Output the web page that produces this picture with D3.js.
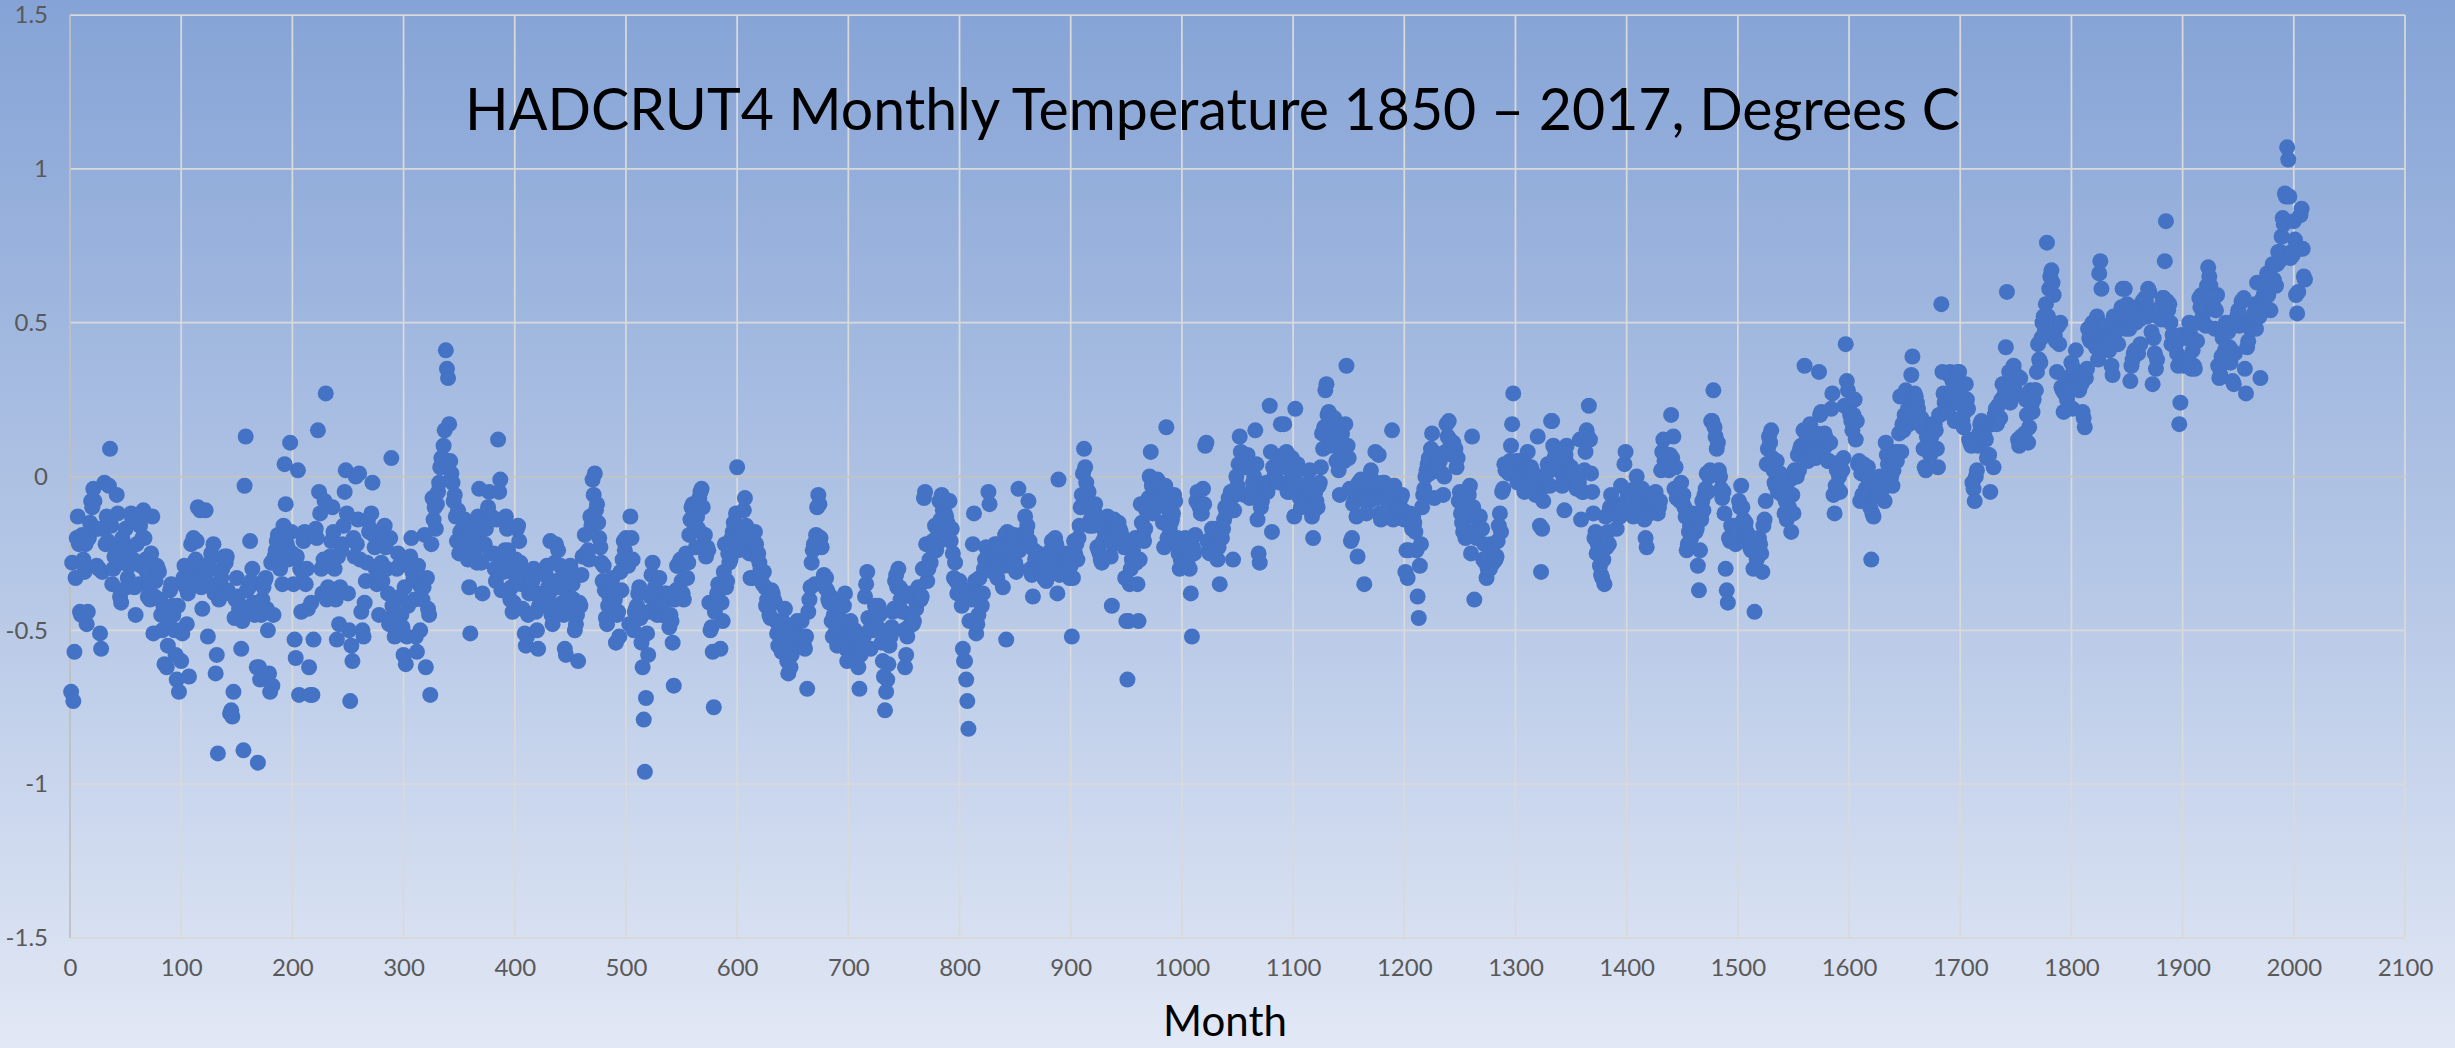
<!DOCTYPE html>
<meta charset="utf-8">
<style>
  body { margin: 0; overflow: hidden; }
  svg { display: block; }
</style>
<body>
<div id="chart"></div>
<script src="https://d3js.org/d3.v7.min.js"></script>
<script>

// HadCRUT4 monthly anomaly, one row per year (1850 .. mid 2017)
var anomaly = [
-0.70,-0.28,-0.73,-0.57,-0.33,-0.20,-0.13,-0.22,-0.44,-0.45,-0.19,-0.27,
-0.31,-0.22,-0.48,-0.44,-0.20,-0.15,-0.08,-0.10,-0.04,-0.08,-0.17,-0.29,
-0.17,-0.30,-0.51,-0.56,-0.31,-0.17,-0.02,-0.22,-0.13,-0.21,-0.03,0.09,
-0.16,-0.35,-0.30,-0.26,-0.23,-0.06,-0.12,-0.28,-0.39,-0.41,-0.20,-0.28,
-0.26,-0.17,-0.36,-0.33,-0.29,-0.23,-0.12,-0.14,-0.27,-0.36,-0.45,-0.22,
-0.13,-0.35,-0.16,-0.29,-0.20,-0.11,-0.20,-0.27,-0.31,-0.39,-0.35,-0.40,
-0.25,-0.13,-0.51,-0.39,-0.34,-0.29,-0.30,-0.31,-0.40,-0.45,-0.50,-0.42,
-0.61,-0.45,-0.62,-0.55,-0.48,-0.37,-0.35,-0.42,-0.45,-0.50,-0.58,-0.66,
-0.42,-0.70,-0.50,-0.60,-0.51,-0.33,-0.29,-0.36,-0.48,-0.38,-0.65,-0.36,
-0.22,-0.31,-0.20,-0.33,-0.27,-0.21,-0.10,-0.32,-0.11,-0.36,-0.43,-0.30,
-0.29,-0.11,-0.31,-0.52,-0.35,-0.30,-0.25,-0.26,-0.22,-0.38,-0.64,-0.58,
-0.90,-0.40,-0.37,-0.33,-0.30,-0.38,-0.26,-0.28,-0.26,-0.37,-0.38,-0.77,
-0.76,-0.78,-0.70,-0.46,-0.40,-0.33,-0.39,-0.43,-0.42,-0.56,-0.47,-0.89,
-0.03,0.13,-0.37,-0.44,-0.36,-0.21,-0.34,-0.30,-0.41,-0.45,-0.42,-0.62,
-0.93,-0.62,-0.66,-0.45,-0.40,-0.36,-0.34,-0.33,-0.43,-0.50,-0.64,-0.70,
-0.28,-0.68,-0.45,-0.26,-0.24,-0.21,-0.19,-0.27,-0.30,-0.22,-0.35,-0.16,
0.04,-0.09,-0.22,-0.27,-0.24,0.11,-0.18,-0.25,-0.35,-0.53,-0.59,-0.26,
0.02,-0.71,-0.30,-0.44,-0.31,-0.21,-0.18,-0.35,-0.30,-0.43,-0.62,-0.71,
-0.41,-0.71,-0.53,-0.19,-0.17,-0.20,0.15,-0.05,-0.12,-0.30,-0.38,-0.27,
-0.08,0.27,-0.40,-0.36,-0.29,-0.26,-0.21,-0.10,-0.18,-0.30,-0.40,-0.53,
-0.26,-0.48,-0.36,-0.24,-0.22,-0.16,-0.05,0.02,-0.12,-0.38,-0.50,-0.73,
-0.55,-0.60,-0.20,-0.26,0.00,-0.22,-0.14,0.01,-0.27,-0.44,-0.50,-0.52,
-0.41,-0.34,-0.28,-0.14,-0.18,-0.17,-0.12,-0.02,-0.19,-0.23,-0.30,-0.35,
-0.33,-0.45,-0.32,-0.28,-0.34,-0.19,-0.16,-0.23,-0.30,-0.38,-0.48,-0.20,
0.06,-0.42,-0.45,-0.52,-0.46,-0.30,-0.25,-0.29,-0.39,-0.45,-0.49,-0.58,
-0.36,-0.61,-0.52,-0.42,-0.29,-0.26,-0.20,-0.31,-0.33,-0.40,-0.52,-0.57,
-0.29,-0.35,-0.50,-0.36,-0.40,-0.36,-0.19,-0.62,-0.33,-0.43,-0.45,-0.71,
-0.22,-0.07,-0.14,-0.10,-0.17,-0.09,-0.05,-0.02,0.03,0.06,0.06,0.10,
0.15,0.41,0.35,0.32,0.17,0.05,0.01,-0.02,-0.08,-0.06,-0.13,-0.21,
-0.11,-0.25,-0.18,-0.22,-0.17,-0.20,-0.14,-0.20,-0.23,-0.27,-0.36,-0.51,
-0.19,-0.24,-0.16,-0.25,-0.20,-0.28,-0.13,-0.04,-0.18,-0.28,-0.38,-0.22,
-0.22,-0.17,-0.12,-0.10,-0.05,-0.25,-0.13,-0.14,-0.25,-0.30,-0.34,-0.14,
0.12,-0.05,-0.01,-0.37,-0.28,-0.31,-0.24,-0.13,-0.17,-0.24,-0.30,-0.40,
-0.36,-0.44,-0.41,-0.32,-0.27,-0.17,-0.16,-0.21,-0.28,-0.35,-0.43,-0.32,
-0.51,-0.55,-0.52,-0.45,-0.38,-0.36,-0.34,-0.34,-0.30,-0.38,-0.44,-0.50,
-0.56,-0.42,-0.40,-0.38,-0.39,-0.42,-0.32,-0.32,-0.29,-0.36,-0.38,-0.21,
-0.45,-0.48,-0.42,-0.28,-0.22,-0.34,-0.24,-0.36,-0.29,-0.33,-0.41,-0.45,
-0.56,-0.58,-0.43,-0.38,-0.35,-0.29,-0.32,-0.35,-0.40,-0.50,-0.48,-0.45,
-0.60,-0.41,-0.42,-0.32,-0.26,-0.26,-0.19,-0.25,-0.25,-0.24,-0.27,-0.13,
-0.16,-0.01,-0.06,0.01,-0.11,-0.09,-0.15,-0.20,-0.23,-0.28,-0.34,-0.29,
-0.37,-0.46,-0.48,-0.42,-0.39,-0.36,-0.34,-0.33,-0.37,-0.40,-0.54,-0.45,
-0.44,-0.52,-0.31,-0.37,-0.27,-0.21,-0.24,-0.20,-0.27,-0.29,-0.48,-0.13,
-0.20,-0.27,-0.50,-0.44,-0.43,-0.42,-0.38,-0.36,-0.46,-0.54,-0.62,-0.79,
-0.96,-0.72,-0.51,-0.58,-0.44,-0.39,-0.32,-0.28,-0.38,-0.36,-0.44,-0.45,
-0.41,-0.33,-0.42,-0.45,-0.40,-0.45,-0.38,-0.38,-0.45,-0.40,-0.49,-0.45,
-0.47,-0.54,-0.68,-0.40,-0.37,-0.29,-0.29,-0.28,-0.27,-0.34,-0.38,-0.40,
-0.28,-0.25,-0.33,-0.28,-0.19,-0.14,-0.10,-0.09,-0.15,-0.16,-0.23,-0.13,
-0.17,-0.07,-0.05,-0.04,-0.10,-0.19,-0.19,-0.26,-0.23,-0.24,-0.41,-0.50,
-0.49,-0.57,-0.75,-0.44,-0.40,-0.38,-0.35,-0.37,-0.56,-0.41,-0.47,-0.31,
-0.22,-0.36,-0.34,-0.25,-0.28,-0.27,-0.20,-0.18,-0.15,-0.16,-0.12,0.03,
-0.24,-0.19,-0.20,-0.22,-0.18,-0.11,-0.07,-0.16,-0.18,-0.21,-0.25,-0.33,
-0.25,-0.33,-0.21,-0.18,-0.22,-0.26,-0.25,-0.28,-0.30,-0.32,-0.35,-0.31,
-0.36,-0.42,-0.40,-0.37,-0.45,-0.46,-0.37,-0.38,-0.40,-0.41,-0.47,-0.51,
-0.55,-0.49,-0.50,-0.57,-0.47,-0.50,-0.43,-0.52,-0.60,-0.64,-0.55,-0.62,
-0.58,-0.54,-0.49,-0.51,-0.53,-0.47,-0.52,-0.55,-0.52,-0.47,-0.54,-0.55,
-0.56,-0.52,-0.69,-0.44,-0.40,-0.36,-0.28,-0.24,-0.22,-0.35,-0.19,-0.10,
-0.06,-0.09,-0.20,-0.23,-0.34,-0.32,-0.36,-0.33,-0.37,-0.40,-0.41,-0.39,
-0.47,-0.52,-0.45,-0.41,-0.50,-0.55,-0.48,-0.46,-0.50,-0.48,-0.55,-0.42,
-0.38,-0.56,-0.60,-0.55,-0.51,-0.47,-0.54,-0.50,-0.53,-0.50,-0.58,-0.52,
-0.62,-0.69,-0.58,-0.54,-0.56,-0.52,-0.39,-0.35,-0.31,-0.46,-0.50,-0.56,
-0.48,-0.50,-0.46,-0.42,-0.45,-0.49,-0.42,-0.45,-0.50,-0.54,-0.60,-0.65,
-0.76,-0.70,-0.66,-0.61,-0.55,-0.52,-0.49,-0.44,-0.43,-0.34,-0.32,-0.36,
-0.30,-0.36,-0.40,-0.37,-0.44,-0.50,-0.62,-0.58,-0.52,-0.49,-0.45,-0.38,
-0.45,-0.48,-0.47,-0.40,-0.43,-0.40,-0.36,-0.38,-0.40,-0.39,-0.30,-0.07,
-0.05,-0.22,-0.34,-0.30,-0.27,-0.28,-0.22,-0.21,-0.22,-0.16,-0.24,-0.22,
-0.18,-0.08,-0.14,-0.06,-0.11,-0.16,-0.12,-0.13,-0.15,-0.18,-0.08,-0.21,
-0.17,-0.25,-0.33,-0.28,-0.34,-0.38,-0.35,-0.34,-0.38,-0.42,-0.56,-0.60,
-0.60,-0.66,-0.73,-0.82,-0.47,-0.37,-0.40,-0.22,-0.12,-0.34,-0.51,-0.48,
-0.45,-0.33,-0.38,-0.42,-0.38,-0.30,-0.27,-0.23,-0.26,-0.05,-0.09,-0.30,
-0.25,-0.31,-0.27,-0.22,-0.28,-0.33,-0.22,-0.28,-0.23,-0.27,-0.36,-0.29,
-0.19,-0.53,-0.18,-0.27,-0.27,-0.29,-0.24,-0.21,-0.19,-0.28,-0.31,-0.30,
-0.04,-0.24,-0.19,-0.22,-0.22,-0.19,-0.13,-0.18,-0.16,-0.08,-0.21,-0.30,
-0.32,-0.39,-0.24,-0.27,-0.30,-0.30,-0.25,-0.27,-0.29,-0.31,-0.26,-0.33,
-0.26,-0.34,-0.32,-0.32,-0.28,-0.24,-0.21,-0.25,-0.27,-0.20,-0.22,-0.38,
-0.01,-0.32,-0.28,-0.30,-0.26,-0.27,-0.25,-0.31,-0.29,-0.26,-0.33,-0.29,
-0.52,-0.33,-0.21,-0.25,-0.22,-0.27,-0.20,-0.16,-0.10,-0.06,0.01,0.09,
0.03,-0.02,-0.06,-0.05,-0.16,-0.14,-0.13,-0.16,-0.11,-0.09,-0.13,-0.23,
-0.24,-0.25,-0.27,-0.28,-0.21,-0.17,-0.19,-0.18,-0.13,-0.14,-0.20,-0.26,
-0.42,-0.22,-0.14,-0.16,-0.19,-0.20,-0.15,-0.17,-0.18,-0.21,-0.20,-0.23,
-0.33,-0.47,-0.66,-0.47,-0.35,-0.30,-0.27,-0.24,-0.26,-0.20,-0.28,-0.35,
-0.47,-0.27,-0.09,-0.15,-0.19,-0.21,-0.17,-0.11,-0.10,-0.07,0.00,0.08,
-0.03,-0.12,-0.08,-0.10,-0.07,-0.01,-0.03,-0.07,-0.08,-0.04,-0.15,-0.23,
-0.03,0.16,-0.20,-0.11,-0.17,-0.15,-0.14,-0.12,-0.06,-0.08,-0.22,-0.20,
-0.25,-0.30,-0.27,-0.23,-0.28,-0.25,-0.20,-0.24,-0.28,-0.26,-0.30,-0.38,
-0.52,-0.23,-0.25,-0.19,-0.08,-0.05,-0.09,-0.10,-0.12,-0.12,-0.04,-0.09,
0.10,0.11,-0.21,-0.24,-0.25,-0.22,-0.17,-0.18,-0.21,-0.17,-0.21,-0.27,
-0.23,-0.35,-0.19,-0.20,-0.17,-0.14,-0.10,-0.12,-0.11,-0.07,-0.08,-0.05,
-0.05,-0.27,-0.11,-0.06,0.00,-0.03,0.04,0.13,0.08,0.04,0.05,-0.06,
0.03,0.05,0.07,0.04,-0.07,-0.06,-0.05,-0.02,0.00,0.15,0.04,-0.14,
-0.25,-0.28,-0.10,-0.08,-0.05,-0.03,-0.04,-0.02,-0.05,-0.03,0.23,0.08,
-0.18,0.03,0.00,-0.01,-0.01,0.03,0.05,-0.02,0.17,0.05,0.07,0.17,
0.03,0.08,-0.05,0.05,-0.05,-0.01,0.06,-0.03,-0.13,0.22,-0.02,0.04,
0.02,-0.07,-0.10,-0.05,-0.09,-0.06,-0.08,-0.07,-0.10,-0.02,0.02,-0.05,
-0.13,-0.20,-0.11,-0.05,-0.08,-0.10,-0.03,-0.02,0.03,0.14,0.09,0.16,
0.28,0.30,0.20,0.21,0.13,0.10,0.13,0.11,0.19,0.17,0.05,0.05,
0.02,-0.06,0.08,0.14,0.07,0.05,0.17,0.36,0.10,0.06,-0.04,-0.21,
-0.20,-0.09,-0.08,-0.06,-0.13,-0.26,-0.02,-0.06,-0.01,-0.04,-0.03,-0.35,
-0.08,-0.12,-0.05,-0.02,-0.08,0.02,-0.01,-0.06,-0.03,0.08,-0.02,-0.07,
0.07,-0.12,-0.14,-0.06,-0.02,-0.02,-0.05,-0.04,-0.08,-0.05,-0.06,-0.10,
0.15,-0.14,-0.03,-0.05,-0.08,-0.11,-0.10,-0.10,-0.07,-0.06,-0.11,-0.14,
-0.31,-0.24,-0.33,-0.24,-0.12,-0.15,-0.17,-0.13,-0.15,-0.18,-0.24,-0.39,
-0.46,-0.29,-0.22,-0.10,-0.06,-0.04,0.00,0.02,0.04,0.06,0.01,0.09,
0.14,0.08,-0.07,0.02,0.02,0.03,0.06,0.05,0.07,0.01,-0.06,0.00,
0.08,0.17,0.13,0.18,0.12,0.10,0.07,0.11,0.08,0.09,0.03,0.06,
-0.08,-0.05,-0.12,-0.15,-0.18,-0.17,-0.20,-0.13,-0.09,-0.06,-0.03,-0.25,
0.13,-0.10,-0.40,-0.18,-0.20,-0.14,-0.16,-0.13,-0.17,-0.17,-0.27,-0.22,
-0.28,-0.33,-0.30,-0.26,-0.30,-0.22,-0.23,-0.28,-0.27,-0.27,-0.26,-0.21,
-0.16,-0.12,-0.18,-0.05,-0.04,0.04,0.02,0.03,0.02,0.01,0.05,0.10,
0.17,0.27,0.04,0.02,0.05,-0.02,0.05,-0.01,0.01,0.03,0.05,-0.05,
0.04,0.02,0.08,0.03,-0.02,0.03,0.02,0.00,-0.03,-0.06,-0.04,0.13,
-0.05,-0.16,-0.31,-0.17,-0.08,-0.03,-0.03,0.01,0.04,0.02,-0.03,0.18,
0.18,0.10,0.06,0.08,0.04,0.07,0.02,0.03,0.02,-0.03,0.00,-0.11,
0.07,0.10,0.04,0.01,-0.02,0.03,0.02,-0.02,0.01,-0.01,-0.04,-0.03,
-0.02,0.12,-0.14,-0.05,-0.05,0.02,0.08,0.15,0.13,0.23,0.12,0.01,
-0.05,-0.12,-0.20,-0.18,-0.25,-0.22,-0.24,-0.29,-0.32,-0.33,-0.27,-0.35,
-0.13,-0.23,-0.18,-0.22,-0.10,-0.06,-0.12,-0.10,-0.12,-0.09,-0.17,-0.09,
-0.13,-0.13,-0.03,-0.10,-0.11,0.04,0.08,-0.08,-0.06,-0.11,-0.10,-0.06,
-0.08,-0.13,-0.04,-0.05,0.00,-0.10,-0.06,-0.08,-0.07,-0.04,-0.12,-0.14,
-0.20,-0.23,-0.06,-0.10,-0.12,-0.09,-0.10,-0.08,-0.09,-0.05,-0.11,-0.12,
-0.10,-0.08,0.02,0.08,0.12,0.05,0.03,0.04,0.07,0.02,0.07,0.20,
0.06,0.13,-0.04,0.03,-0.07,-0.06,-0.05,-0.08,-0.02,-0.08,-0.06,-0.10,
-0.13,-0.24,-0.22,-0.18,-0.16,-0.20,-0.14,-0.12,-0.18,-0.18,-0.17,-0.29,
-0.37,-0.24,-0.14,-0.08,-0.11,-0.06,-0.04,0.01,-0.05,0.00,0.02,0.18,
0.18,0.28,0.16,0.13,0.09,0.11,0.02,0.00,-0.04,-0.07,-0.05,-0.12,
-0.30,-0.37,-0.41,-0.20,-0.21,-0.16,-0.19,-0.16,-0.19,-0.22,-0.19,-0.17,
-0.08,-0.10,-0.03,-0.10,-0.14,-0.17,-0.15,-0.18,-0.20,-0.22,-0.23,-0.24,
-0.20,-0.30,-0.44,-0.22,-0.27,-0.24,-0.20,-0.22,-0.25,-0.31,-0.16,-0.14,
-0.08,0.04,0.09,0.13,0.11,0.15,0.06,0.02,-0.02,-0.03,0.05,-0.05,
-0.03,0.01,-0.03,-0.06,-0.05,-0.12,-0.08,-0.14,-0.05,-0.10,-0.01,-0.18,
-0.06,-0.12,0.02,0.00,0.00,0.07,0.02,0.09,0.10,0.10,0.15,0.36,
0.08,0.13,0.05,0.09,0.17,0.10,0.08,0.06,0.08,0.06,0.14,0.08,
0.34,0.20,0.21,0.13,0.09,0.14,0.10,0.12,0.05,0.05,0.11,0.22,
0.27,-0.06,-0.12,-0.03,0.02,-0.04,0.00,-0.05,0.05,0.02,0.06,0.23,
0.43,0.31,0.28,0.22,0.20,0.18,0.15,0.20,0.25,0.12,0.18,0.04,
0.05,-0.08,0.01,-0.06,0.04,-0.08,-0.04,0.00,0.03,-0.05,-0.10,-0.27,
-0.12,-0.13,-0.02,-0.06,-0.02,-0.06,-0.05,0.00,-0.05,-0.03,-0.01,-0.08,
0.11,0.07,0.04,0.05,0.02,0.00,-0.03,0.02,0.05,0.08,0.05,0.08,
0.14,0.26,0.08,0.17,0.15,0.20,0.28,0.20,0.22,0.17,0.19,0.33,
0.39,0.24,0.27,0.26,0.24,0.22,0.18,0.17,0.19,0.16,0.09,0.03,
0.02,0.13,0.10,0.13,0.07,0.13,0.17,0.17,0.17,0.15,0.09,0.03,
0.20,0.20,0.56,0.34,0.27,0.24,0.23,0.22,0.21,0.33,0.34,0.26,
0.31,0.32,0.18,0.30,0.24,0.34,0.34,0.27,0.19,0.18,0.16,0.21,
0.30,0.25,0.22,0.12,0.11,0.10,-0.02,-0.04,-0.08,0.00,0.02,0.10,
0.14,0.17,0.18,0.12,0.13,0.13,0.12,0.06,0.07,0.07,-0.05,0.17,
0.17,0.03,0.20,0.22,0.17,0.23,0.19,0.19,0.25,0.30,0.30,0.27,
0.42,0.60,0.30,0.34,0.24,0.32,0.35,0.36,0.30,0.33,0.27,0.12,
0.10,0.32,0.13,0.11,0.12,0.14,0.25,0.20,0.11,0.16,0.28,0.23,
0.21,0.25,0.28,0.28,0.34,0.43,0.38,0.37,0.45,0.50,0.52,0.47,
0.56,0.76,0.52,0.61,0.65,0.67,0.63,0.59,0.46,0.44,0.34,0.49,
0.43,0.50,0.29,0.28,0.21,0.27,0.32,0.25,0.31,0.29,0.28,0.37,
0.22,0.35,0.31,0.41,0.30,0.31,0.28,0.31,0.30,0.21,0.19,0.16,
0.32,0.35,0.48,0.45,0.44,0.45,0.50,0.47,0.43,0.42,0.52,0.38,
0.66,0.70,0.61,0.47,0.45,0.48,0.49,0.46,0.44,0.41,0.44,0.36,
0.33,0.52,0.48,0.47,0.49,0.43,0.51,0.52,0.55,0.61,0.52,0.61,
0.48,0.56,0.54,0.48,0.31,0.36,0.38,0.40,0.41,0.50,0.55,0.40,
0.51,0.43,0.56,0.57,0.55,0.58,0.57,0.52,0.61,0.60,0.54,0.47,
0.30,0.45,0.40,0.35,0.38,0.52,0.52,0.55,0.51,0.58,0.58,0.70,
0.83,0.57,0.54,0.56,0.50,0.43,0.46,0.43,0.45,0.43,0.40,0.36,
0.17,0.24,0.46,0.38,0.36,0.38,0.45,0.37,0.38,0.50,0.46,0.35,
0.41,0.36,0.35,0.44,0.44,0.50,0.58,0.55,0.59,0.52,0.54,0.55,
0.49,0.62,0.68,0.65,0.62,0.56,0.56,0.55,0.48,0.54,0.59,0.36,
0.32,0.33,0.39,0.45,0.37,0.41,0.50,0.49,0.47,0.42,0.37,0.41,
0.31,0.30,0.40,0.51,0.52,0.54,0.49,0.51,0.57,0.57,0.58,0.35,
0.27,0.42,0.44,0.49,0.48,0.48,0.52,0.53,0.56,0.48,0.63,0.52,
0.52,0.32,0.56,0.58,0.59,0.62,0.55,0.66,0.59,0.62,0.54,0.63,
0.69,0.64,0.69,0.62,0.69,0.73,0.70,0.73,0.78,0.84,0.82,0.92,
0.91,1.07,1.03,0.91,0.71,0.73,0.72,0.83,0.77,0.59,0.53,0.60,
0.74,0.85,0.87,0.74,0.65,0.64
];

var xTicks = [0,100,200,300,400,500,600,700,800,900,1000,1100,1200,1300,1400,1500,1600,1700,1800,1900,2000,2100];
var yTicks = [-1.5,-1,-0.5,0,0.5,1,1.5];
var titleText = "HADCRUT4 Monthly Temperature 1850 \u2013 2017, Degrees C";
var xTitle = "Month";

var w = 2455, h = 1048;
var plotLeft = 70, plotRight = 2405, plotTop = 15, plotBottom = 938;
var font = "Lato, 'Open Sans', sans-serif";

var points = anomaly.map(function(v, i) { return {month: i + 1, value: v}; });

var x = d3.scaleLinear().domain([0, 2100]).range([plotLeft, plotRight]);
var y = d3.scaleLinear().domain([-1.5, 1.5]).range([plotBottom, plotTop]);

var svg = d3.select("#chart")
    .append("svg")
    .attr("width", w)
    .attr("height", h);

var grad = svg.append("defs")
    .append("linearGradient")
    .attr("id", "bg")
    .attr("x1", 0).attr("y1", 0)
    .attr("x2", 0).attr("y2", 1);
grad.append("stop").attr("offset", "0%").attr("stop-color", "#85a3d6");
grad.append("stop").attr("offset", "55%").attr("stop-color", "#b5c7e6");
grad.append("stop").attr("offset", "100%").attr("stop-color", "#e2e8f5");

svg.append("rect")
    .attr("width", w)
    .attr("height", h)
    .attr("fill", "url(#bg)");

// gridlines
svg.append("g")
    .selectAll("line")
    .data(xTicks.filter(function(d) { return d > 0; }))
    .enter()
    .append("line")
    .attr("x1", function(d) { return x(d); })
    .attr("x2", function(d) { return x(d); })
    .attr("y1", plotTop)
    .attr("y2", plotBottom)
    .attr("stroke", "#d9d9d9")
    .attr("stroke-width", 1.75);

svg.append("g")
    .selectAll("line")
    .data(yTicks.filter(function(d) { return d != 0; }))
    .enter()
    .append("line")
    .attr("x1", plotLeft)
    .attr("x2", plotRight)
    .attr("y1", function(d) { return y(d); })
    .attr("y2", function(d) { return y(d); })
    .attr("stroke", "#d9d9d9")
    .attr("stroke-width", 1.75);

// axis lines (value axis at x=0, category axis crossing at 0)
svg.append("line")
    .attr("x1", x(0)).attr("x2", x(0))
    .attr("y1", plotTop).attr("y2", plotBottom)
    .attr("stroke", "#bfbfbf")
    .attr("stroke-width", 1.75);

svg.append("line")
    .attr("x1", plotLeft).attr("x2", plotRight)
    .attr("y1", y(0)).attr("y2", y(0))
    .attr("stroke", "#c3c3c3")
    .attr("stroke-width", 1.75);

// tick labels through d3 axes
var xAxis = svg.append("g")
    .attr("transform", "translate(0," + plotBottom + ")")
    .call(d3.axisBottom(x).tickValues(xTicks).tickSize(0).tickPadding(21).tickFormat(function(d) { return String(d); }));

var yAxis = svg.append("g")
    .attr("transform", "translate(" + plotLeft + ",0)")
    .call(d3.axisLeft(y).tickValues(yTicks).tickSize(0).tickPadding(22).tickFormat(function(d) { return String(d); }));

[xAxis, yAxis].forEach(function(g) {
    g.select(".domain").remove();
    g.selectAll("text")
        .attr("font-family", font)
        .attr("font-size", 24)
        .attr("fill", "#595959");
});

// points
svg.append("g")
    .selectAll("circle")
    .data(points)
    .enter()
    .append("circle")
    .attr("cx", function(d) { return x(d.month); })
    .attr("cy", function(d) { return y(d.value); })
    .attr("r", 8)
    .attr("fill", "#4472c4");

svg.append("text")
    .text(titleText)
    .attr("x", 465)
    .attr("y", 130)
    .attr("font-family", font)
    .attr("font-size", 58)
    .attr("textLength", 1495)
    .attr("lengthAdjust", "spacingAndGlyphs")
    .attr("fill", "#000");

svg.append("text")
    .text(xTitle)
    .attr("x", 1225)
    .attr("y", 1036)
    .attr("text-anchor", "middle")
    .attr("font-family", font)
    .attr("font-size", 42)
    .attr("fill", "#000");

</script>
